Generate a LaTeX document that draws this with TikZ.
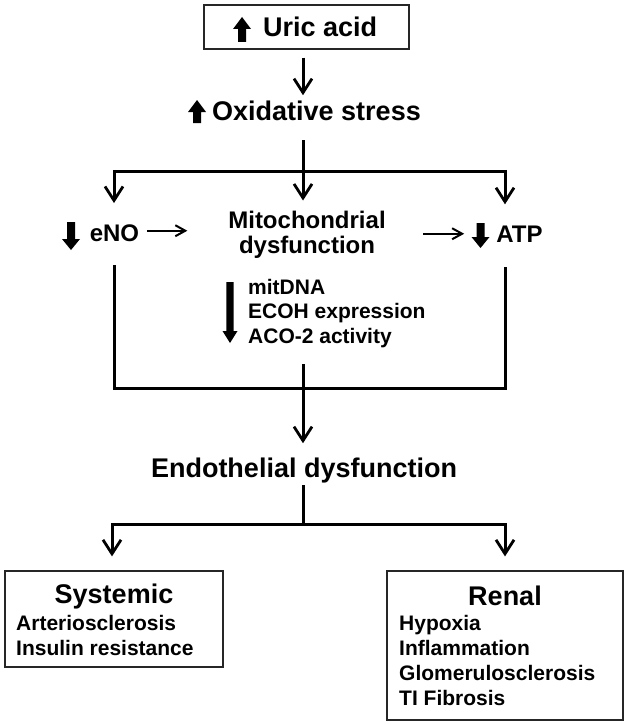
\documentclass[tikz,border=0pt]{standalone}
\usepackage{fontspec}
\setmainfont{Liberation Sans}
\usetikzlibrary{arrows.meta}
\newcommand{\upblk}[6]{\fill (#1-#4,#2) -- (#1-#4,#3+#6) -- (#1-#5,#3+#6) -- (#1,#3) -- (#1+#5,#3+#6) -- (#1+#4,#3+#6) -- (#1+#4,#2) -- cycle;}
\newcommand{\downblk}[6]{\fill (#1-#4,#2) -- (#1-#4,#3-#6) -- (#1-#5,#3-#6) -- (#1,#3) -- (#1+#5,#3-#6) -- (#1+#4,#3-#6) -- (#1+#4,#2) -- cycle;}
\begin{document}
\begin{tikzpicture}[x=1pt,y=-1pt,
  ln/.style={line width=3pt, line join=miter},
  arr/.style={line width=3pt, line join=miter, -{Straight Barb[length=14pt,width=18pt,line width=2.8pt]}},
  sarr/.style={line width=2pt, -{Straight Barb[length=10pt,width=11pt,line width=2pt]}},
  big/.style={font=\bfseries\fontsize{27}{30}\selectfont, inner sep=0pt},
  mid/.style={font=\bfseries\fontsize{24}{25}\selectfont, inner sep=0pt},
  small/.style={font=\bfseries\fontsize{21}{24.5}\selectfont, inner sep=0pt},
  boxitems/.style={font=\bfseries\fontsize{21}{25}\selectfont, inner sep=0pt, align=left},
  frame/.style={draw=black!85, line width=1.2pt, inner sep=0pt}]
\useasboundingbox (0,0) rectangle (628,725);
\coordinate (ax) at (303,0);
\coordinate (lx) at (114,0);
\coordinate (lx2) at (112,0);
\coordinate (rx) at (505,0);
\coordinate (b1) at (303,171);
\coordinate (b2) at (303,388);
\coordinate (b3) at (303,524);

% top
\node[frame, minimum width=205pt, minimum height=44pt] (uric) at (306.5,27) {};
\node[big, anchor=base west] (uricT) at (263,37) {Uric acid};
\upblk{242}{42}{17}{4}{9}{12}
\node[big, anchor=base west] (ox) at (212,120) {Oxidative stress};
\upblk{197}{123}{100}{4}{9}{12}
\draw[arr] ([yshift=-8pt]uric.south -| ax) -- ([yshift=5pt]ox.north -| ax);

% middle row
\node[mid, anchor=base] (eno) at (114.5,241) {eNO};
\downblk{71}{222}{250}{4}{9}{11}
\node[mid, anchor=north, align=center] (mito) at (307,210.5) {Mitochondrial\\dysfunction};
\node[mid, anchor=base] (atp) at (519.5,242) {ATP};
\downblk{480.5}{223}{248}{4}{9}{11}
\node[small, anchor=north west, align=left] (mlist) at (248,278.7) {mitDNA\\ECOH expression\\ACO-2 activity};
\downblk{230}{282}{343}{3.7}{7.5}{12}

\draw[ln] ([yshift=-20pt]ox.south -| ax) -- (b1);
\draw[arr] (b1) -| ([yshift=21pt]eno.north -| lx);
\draw[arr] (b1) -| ([yshift=21pt]atp.north -| rx);
\draw[arr] ([yshift=-20pt]ox.south -| ax) -- ([yshift=10pt]mito.north -| ax);
\draw[sarr] ([xshift=8pt,yshift=2pt]eno.east) -- ([xshift=48pt,yshift=2pt]eno.east);
\draw[sarr] ([xshift=-73pt]atp.west) -- ([xshift=-32pt]atp.west);

\draw[ln] ([yshift=-24pt]eno.south -| lx) |- (b2) -| ([yshift=-25pt]atp.south -| rx);
\draw[ln] ([yshift=-16.6pt]mlist.south -| ax) -- (b2);

% endothelial
\node[big, anchor=base] (endo) at (304,477) {Endothelial dysfunction};
\draw[arr] (b2) -- ([yshift=14pt]endo.north -| ax);
\draw[ln] ([yshift=-2.5pt]endo.south -| ax) -- (b3);

% bottom boxes
\node[frame, minimum width=218pt, minimum height=96pt] (sys) at (114,619) {};
\node[big, anchor=base] (sysT) at (114,603) {Systemic};
\node[boxitems, anchor=north west] (sysI) at (16,614.7) {Arteriosclerosis\\Insulin resistance};

\node[frame, minimum width=236pt, minimum height=149pt] (ren) at (505,645.5) {};
\node[big, anchor=base] (renT) at (505,605) {Renal};
\node[boxitems, anchor=north west] (renI) at (399,614.7) {Hypoxia\\Inflammation\\Glomerulosclerosis\\TI Fibrosis};

\draw[arr] (b3) -| ([yshift=14pt]sys.north -| lx2);
\draw[arr] (b3) -| ([yshift=14pt]ren.north -| rx);
\end{tikzpicture}
\end{document}
